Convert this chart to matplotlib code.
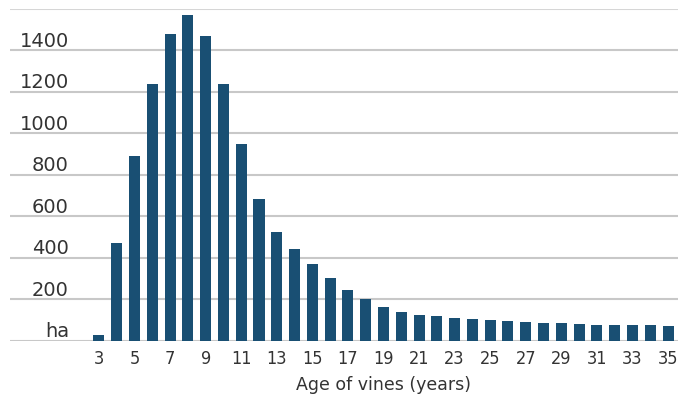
import matplotlib.pyplot as plt
from matplotlib import font_manager
from matplotlib.transforms import blended_transform_factory

ages = list(range(3, 36))
hectares = [27, 472, 889, 1239, 1477, 1569, 1471, 1239, 949, 683,
            524, 442, 369, 302, 244, 200, 162, 138, 123, 118,
            109, 104, 99, 94, 89, 85, 85, 80, 75, 75,
            75, 75, 70]
y_ticks = [200, 400, 600, 800, 1000, 1200, 1400]
x_labels = [a for a in ages if a % 2 == 1]

bar_color = '#194f73'
text_color = '#333333'

# regular condensed face for the x tick labels, if there is one
tick_fp = font_manager.FontProperties(family='DejaVu Sans', size=13)
for f in font_manager.fontManager.ttflist:
    base = f.fname.split('/')[-1]
    if base in ('LiberationSansNarrow-Regular.ttf', 'DejaVuSansCondensed.ttf'):
        tick_fp = font_manager.FontProperties(fname=f.fname, size=13)
        if base.startswith('Liberation'):
            break

fig = plt.figure(figsize=(6.78, 4.02), dpi=100)
ax = fig.add_axes([10 / 678, 60.5 / 402, 668 / 678, 331.5 / 402])

ax.bar(ages, hectares, width=0.62, color=bar_color, zorder=3)
ax.set_xlim(-2.0, 35.56)
ax.set_ylim(0, 1600)

for v in [0] + y_ticks:
    ax.axhline(v, color='#c8c8c8', lw=1.5, zorder=1)
ax.axhline(1600, color='#d6d6d6', lw=1.5, zorder=1)

for s in ax.spines.values():
    s.set_visible(False)
ax.set_xticks([])
ax.set_yticks([])

trans = blended_transform_factory(ax.transAxes, ax.transData)
for v in y_ticks:
    ax.text(0.0883, v + 48, str(v), transform=trans, ha='right', va='center',
            fontsize=14, color=text_color)
ax.text(0.0883, 48, 'ha', transform=trans, ha='right', va='center',
        fontsize=14, color=text_color)

trans_x = blended_transform_factory(ax.transData, ax.transAxes)
for a in x_labels:
    ax.text(a, -0.054, str(a), transform=trans_x, ha='center', va='center',
            color=text_color, fontproperties=tick_fp)

ax.text(19, -0.131, 'Age of vines (years)', transform=trans_x, ha='center',
        va='center', fontsize=12.5, color=text_color)

fig.savefig('out.png', dpi=100)
